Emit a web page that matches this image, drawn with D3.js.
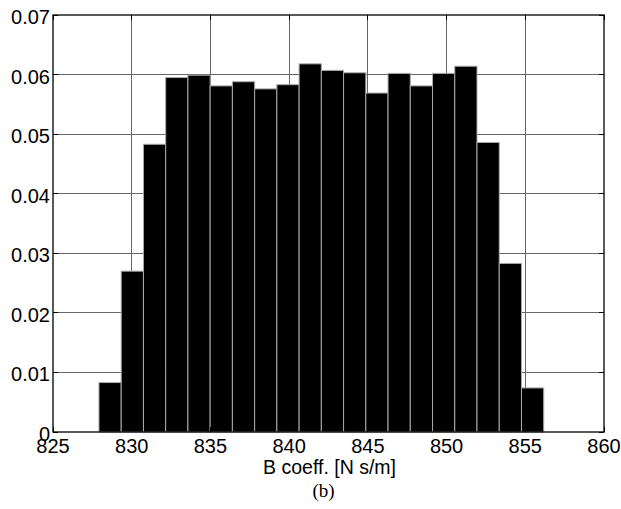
<!DOCTYPE html>
<html><head><meta charset="utf-8">
<script src="https://cdn.jsdelivr.net/npm/d3@7"></script>
<style>body{margin:0;background:#fff}svg{display:block}</style>
</head><body>
<svg id="c" width="621" height="509"></svg>
<script>
const binStart = 827.92, binWidth = 1.4125;
const values = [0.0083, 0.0270, 0.0483, 0.0595, 0.0599, 0.0581, 0.0588, 0.0576, 0.0583, 0.0618,
                0.0607, 0.0603, 0.0569, 0.0602, 0.0581, 0.0602, 0.0614, 0.0486, 0.0283, 0.0074];
const xTicks = [825, 830, 835, 840, 845, 850, 855, 860];
const yTicks = [0, 0.01, 0.02, 0.03, 0.04, 0.05, 0.06, 0.07];
const xLabel = "B coeff. [N s/m]";
const caption = "(b)";

const m = {l:53, r:604, t:15, b:432};
const svg = d3.select("#c");
const x = d3.scaleLinear().domain([825, 860]).range([m.l, m.r]);
const y = d3.scaleLinear().domain([0, 0.07]).range([m.b, m.t]);
const font = "'Liberation Sans', Arial, sans-serif";

// grid
svg.append("g").selectAll("line").data(xTicks.slice(1, -1)).join("line")
  .attr("x1", d => x(d)).attr("x2", d => x(d)).attr("y1", m.t).attr("y2", m.b)
  .attr("stroke", "#666").attr("stroke-width", 1).attr("shape-rendering", "crispEdges");
svg.append("g").selectAll("line").data(yTicks.slice(1, -1)).join("line")
  .attr("y1", d => y(d)).attr("y2", d => y(d)).attr("x1", m.l).attr("x2", m.r)
  .attr("stroke", "#666").attr("stroke-width", 1).attr("shape-rendering", "crispEdges");

// bars
svg.append("g").selectAll("rect").data(values).join("rect")
  .attr("x", (d, i) => x(binStart + i * binWidth))
  .attr("width", (d, i) => x(binStart + (i + 1) * binWidth) - x(binStart + i * binWidth))
  .attr("y", d => y(d)).attr("height", d => y(0) - y(d))
  .attr("fill", "#000").attr("stroke", "#aaa").attr("stroke-width", 1);

// ticks inside
const tl = 5;
const tg = svg.append("g").attr("stroke", "#000").attr("stroke-width", 1).attr("shape-rendering", "crispEdges");
xTicks.forEach(t => {
  tg.append("line").attr("x1", x(t)).attr("x2", x(t)).attr("y1", m.b).attr("y2", m.b - tl);
  tg.append("line").attr("x1", x(t)).attr("x2", x(t)).attr("y1", m.t).attr("y2", m.t + tl);
});
yTicks.forEach(t => {
  tg.append("line").attr("y1", y(t)).attr("y2", y(t)).attr("x1", m.l).attr("x2", m.l + tl);
  tg.append("line").attr("y1", y(t)).attr("y2", y(t)).attr("x1", m.r).attr("x2", m.r - tl);
});

// box
svg.append("rect").attr("x", m.l).attr("y", m.t).attr("width", m.r - m.l).attr("height", m.b - m.t)
  .attr("fill", "none").attr("stroke", "#000").attr("stroke-width", 1.3);

// labels
svg.append("g").selectAll("text").data(xTicks).join("text")
  .attr("x", d => x(d)).attr("y", 453).attr("text-anchor", "middle")
  .attr("font-family", font).attr("font-size", 20).text(d => d);
svg.append("g").selectAll("text").data(yTicks).join("text")
  .attr("x", 50).attr("y", d => y(d) + 9).attr("text-anchor", "end")
  .attr("font-family", font).attr("font-size", 20).text(d => d === 0 ? "0" : d.toFixed(2));
svg.append("text").attr("x", (m.l + m.r) / 2 + 1).attr("y", 474).attr("text-anchor", "middle")
  .attr("font-family", font).attr("font-size", 19.5).text(xLabel);
svg.append("text").attr("x", (m.l + m.r) / 2 - 5).attr("y", 497).attr("text-anchor", "middle")
  .attr("font-family", "'Liberation Serif', 'Times New Roman', serif").attr("font-size", 19).text(caption);
</script>
</body></html>
